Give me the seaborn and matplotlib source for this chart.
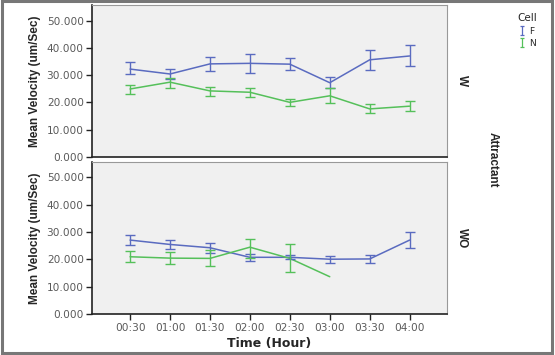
import matplotlib.pyplot as plt
import matplotlib.patches as patches
import matplotlib.ticker as ticker
import numpy as np
import pandas as pd
import seaborn as sns

sns.set_theme(style="white")
plt.rcParams["font.family"] = ["DejaVu Sans"]

times = ["00:30", "01:00", "01:30", "02:00", "02:30", "03:00", "03:30", "04:00"]

w_f_mean = [32.2, 30.4, 34.1, 34.3, 34.0, 27.2, 35.6, 37.0]
w_f_lo = [30.4, 28.5, 31.4, 30.9, 31.8, 25.1, 31.9, 33.3]
w_f_hi = [34.7, 32.1, 36.5, 37.8, 36.2, 29.4, 39.2, 41.1]

w_n_mean = [24.9, 27.4, 24.2, 23.7, 20.0, 22.4, 17.6, 18.6]
w_n_lo = [22.9, 25.1, 22.3, 22.1, 18.6, 19.9, 16.0, 16.7]
w_n_hi = [26.4, 29.0, 25.7, 25.3, 21.1, 25.1, 19.3, 20.6]

wo_f_mean = [27.1, 25.5, 24.3, 20.8, 20.8, 20.1, 20.2, 27.1]
wo_f_lo = [25.3, 23.9, 22.3, 19.6, 20.0, 18.6, 18.6, 24.3]
wo_f_hi = [28.9, 27.1, 26.1, 21.9, 21.6, 21.3, 21.6, 30.2]

wo_n_mean = [21.0, 20.5, 20.4, 24.5, 20.4, 13.7, np.nan, np.nan]
wo_n_lo = [19.0, 18.2, 17.7, 20.4, 15.5, np.nan, np.nan, np.nan]
wo_n_hi = [23.1, 22.8, 23.5, 27.5, 25.7, np.nan, np.nan, np.nan]

yticks = [0, 10, 20, 30, 40, 50]

colors = {"F": "#5a6bc0", "N": "#55c05a"}

panels = {
    "W": {"F": (w_f_mean, w_f_lo, w_f_hi), "N": (w_n_mean, w_n_lo, w_n_hi)},
    "WO": {"F": (wo_f_mean, wo_f_lo, wo_f_hi), "N": (wo_n_mean, wo_n_lo, wo_n_hi)},
}

fig = plt.figure(figsize=(5.55, 3.55), dpi=100)
ax_top = fig.add_axes([0.166, 0.558, 0.639, 0.428])
ax_bot = fig.add_axes([0.166, 0.115, 0.639, 0.429])

for ax, (name, groups) in zip([ax_top, ax_bot], panels.items()):
    rows = []
    for cell, (m, lo, hi) in groups.items():
        for i, t in enumerate(times):
            rows.append({"pos": i, "time": t, "Cell": cell, "mean": m[i],
                         "lo": lo[i], "hi": hi[i]})
    df = pd.DataFrame(rows)
    sns.lineplot(data=df.dropna(subset=["mean"]), x="pos", y="mean", hue="Cell",
                 palette=colors, ax=ax, linewidth=1.1, legend=False)
    for cell, sub in df.dropna(subset=["lo"]).groupby("Cell"):
        ax.errorbar(sub["pos"], sub["mean"],
                    yerr=[sub["mean"] - sub["lo"], sub["hi"] - sub["mean"]],
                    fmt="none", ecolor=colors[cell], elinewidth=1.0,
                    capsize=3.6, capthick=1.0)

    ax.set_facecolor("#f0f0f0")
    ax.set_xlim(-0.95, 7.93)
    ax.set_ylim(0, 55.7)
    ax.set_yticks(yticks)
    ax.yaxis.set_major_formatter(ticker.StrMethodFormatter("{x:.3f}"))
    ax.set_xticks(range(len(times)))
    ax.set_xticklabels(times)
    ax.tick_params(axis="both", direction="out", length=4, width=1,
                   color="#222222", labelsize=7.6, labelcolor="#5a5a5a",
                   left=True, bottom=True, pad=2)
    ax.set_ylabel("Mean Velocity (um/Sec)", family="Liberation Sans",
                  fontweight="bold", fontsize=8.5, labelpad=4)
    ax.set_xlabel("")
    for side in ["top", "right"]:
        ax.spines[side].set_color("#999999")
        ax.spines[side].set_linewidth(0.8)
    for side in ["left", "bottom"]:
        ax.spines[side].set_color("#222222")
        ax.spines[side].set_linewidth(1.2)
    ax.text(1.025, 0.5, name, transform=ax.transAxes, rotation=270,
            ha="left", va="center", fontsize=8.5, fontweight="bold",
            family="Liberation Sans")

ax_top.tick_params(axis="x", bottom=False, labelbottom=False)
ax_bot.set_xlabel("Time (Hour)", fontweight="bold", fontsize=9, labelpad=3)

fig.text(0.887, 0.549, "Attractant", rotation=270, ha="center", va="center",
         fontsize=8.5, fontweight="bold", family="Liberation Sans")

# Legend
handles = []
for cell in ["F", "N"]:
    h = ax_top.errorbar([np.nan], [np.nan], yerr=[1], fmt="none",
                        ecolor=colors[cell], elinewidth=0.9, capsize=1.5,
                        capthick=0.9, label=cell)
    handles.append(h)
leg = fig.legend(handles=handles, labels=["F", "N"], title="Cell",
                 loc="upper right", bbox_to_anchor=(0.98, 0.98),
                 frameon=False, fontsize=6.5, title_fontsize=7.5,
                 handlelength=0.5, handleheight=0.5, handletextpad=0.5,
                 labelspacing=0.35, borderpad=0.2)

# Outer frame
fig.patches.append(patches.Rectangle((0.003, 0.006), 0.991, 0.99,
                                     transform=fig.transFigure, fill=False,
                                     edgecolor="#777777", linewidth=2.2))

fig.savefig("out.png", dpi=100)
